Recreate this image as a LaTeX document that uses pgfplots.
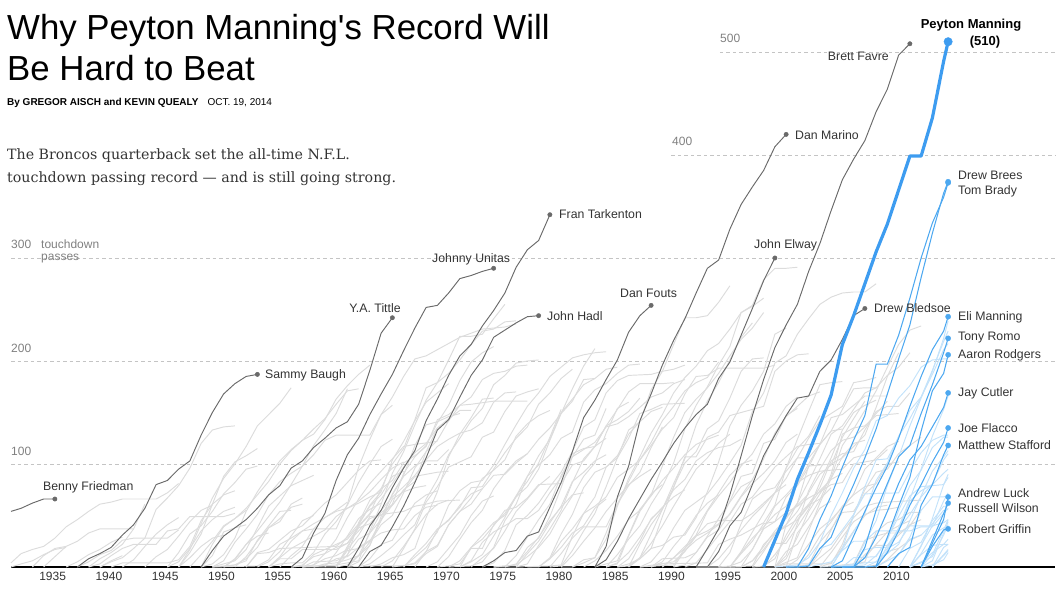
\documentclass[border=0pt]{standalone}
\usepackage{fontspec}
\setmainfont{Liberation Sans}
\newfontfamily\titlefont{Liberation Sans}
\newfontfamily\seriffont{DejaVu Serif}
\usepackage{pgfplots}
\pgfplotsset{compat=1.18}
\definecolor{grl}{HTML}{DCDCDC}
\definecolor{dkg}{HTML}{6A6A6A}
\definecolor{blu}{HTML}{4DA8F0}
\definecolor{lbl}{HTML}{C3E2FA}
\definecolor{pmb}{HTML}{3D9CF0}
\definecolor{txt}{HTML}{333333}
\definecolor{gridc}{HTML}{C4C4C4}
\pgfplotsset{
  gr/.style={color=grl, line width=0.95pt, mark=none},
  lb/.style={color=lbl, line width=0.95pt, mark=none},
  dk/.style={color=dkg, line width=0.95pt, mark=none},
  bl/.style={color=blu, line width=1.05pt, mark=none},
}
\begin{document}
\begin{tikzpicture}[x=1pt,y=1pt]
\path[use as bounding box] (0,0) rectangle (1063,589);
\begin{axis}[
  at={(11pt,22pt)}, anchor=south west,
  scale only axis, width=1044pt, height=545.9pt,
  xmin=1931.3, xmax=2024.1, ymin=0, ymax=530,
  axis x line*=bottom, axis y line=none,
  x axis line style={black, line width=1.3pt, -},
  xtick={1935,1940,...,2010}, ytick=\empty,
  major tick length=0pt,
  xticklabel style={font=\fontsize{12}{14}\selectfont, text=txt, yshift=-2pt},
  /pgf/number format/1000 sep={},
  /pgf/number format/assume math mode=true,
  clip=false,
]
% grid lines
\draw[gridc, dash pattern=on 3.5pt off 3pt, line width=0.7pt] (axis cs:1931.3,100) -- (axis cs:2024.1,100);
\draw[gridc, dash pattern=on 3.5pt off 3pt, line width=0.7pt] (axis cs:1931.3,200) -- (axis cs:2024.1,200);
\draw[gridc, dash pattern=on 3.5pt off 3pt, line width=0.7pt] (axis cs:1931.3,300) -- (axis cs:2024.1,300);
\draw[gridc, dash pattern=on 3.5pt off 3pt, line width=0.7pt] (axis cs:1990.0,400) -- (axis cs:2024.1,400);
\draw[gridc, dash pattern=on 3.5pt off 3pt, line width=0.7pt] (axis cs:1994.3,500) -- (axis cs:2024.1,500);

% ---------- gray background careers ----------
\addplot[gr] coordinates {(1931.3,4)(1932.2,13)(1933.2,17)(1934.2,20)(1935.2,28)(1936.2,39)(1937.2,46)(1938.2,54)(1939.2,61)(1940.2,63)(1941.2,66)(1944.2,66)(1945.2,72)(1946.2,81)};
\addplot[gr] coordinates {(1931.3,0)(1932.2,3)(1933.2,6)(1934.2,12)(1935.2,17)(1936.2,19)};
\addplot[gr] coordinates {(1933.2,0)(1934.2,11)(1935.2,18)(1936.2,20)};
\addplot[gr] coordinates {(1934.2,0)(1935.2,10)(1936.2,20)(1937.2,25)(1938.2,33)(1939.2,37)(1942.2,37)};
\addplot[gr] coordinates {(1936.2,0)(1937.2,5)(1938.2,12)(1939.2,17)(1940.2,24)(1941.2,29)};
\addplot[gr] coordinates {(1937.2,0)(1938.2,5)(1939.2,12)(1940.2,16)(1941.2,26)(1942.2,28)(1945.2,28)(1946.2,36)};
\addplot[gr] coordinates {(1938.2,0)(1939.2,8)(1940.2,14)(1941.2,22)(1942.2,37)(1943.2,61)};
\addplot[gr] coordinates {(1938.2,0)(1939.2,3)(1940.2,11)(1941.2,18)(1942.2,22)(1944.2,22)(1945.2,35)(1946.2,37)(1947.2,49)(1950.2,49)(1951.2,52)};
\addplot[gr] coordinates {(1939.2,0)(1940.2,6)(1941.2,11)};
\addplot[gr] coordinates {(1939.2,0)(1940.2,5)(1941.2,9)(1942.2,18)(1943.2,28)(1944.2,56)(1945.2,67)(1946.2,79)(1947.2,96)(1948.2,120)(1949.2,133)(1950.2,136)(1951.2,137)};
\addplot[gr] coordinates {(1940.2,0)(1941.2,4)(1945.2,4)(1946.2,7)(1947.2,20)(1948.2,45)(1949.2,61)(1950.2,70)(1951.2,74)};
\addplot[gr] coordinates {(1941.2,0)(1942.2,7)(1943.2,20)(1944.2,32)(1945.2,41)(1946.2,48)};
\addplot[gr] coordinates {(1943.2,0)(1944.2,10)(1945.2,17)(1946.2,30)(1947.2,44)(1948.2,55)(1949.2,60)};
\addplot[gr] coordinates {(1945.2,0)(1946.2,14)(1947.2,32)(1948.2,40)(1949.2,54)(1950.2,71)(1951.2,82)(1952.2,95)(1953.2,98)};
\addplot[gr] coordinates {(1945.2,0)(1946.2,5)(1947.2,18)(1948.2,35)(1949.2,46)(1950.2,54)(1951.2,58)};
\addplot[gr] coordinates {(1946.2,0)(1947.2,9)(1948.2,20)(1949.2,28)(1950.2,31)};
\addplot[gr] coordinates {(1946.2,0)(1947.2,14)(1948.2,32)(1949.2,61)(1950.2,88)(1951.2,102)(1952.2,108)(1953.2,115)};
\addplot[gr] coordinates {(1946.2,0)(1947.2,17)(1948.2,42)(1949.2,67)(1950.2,86)(1951.2,100)(1952.2,117)(1953.2,137)(1954.2,148)(1955.2,159)(1956.2,174)};
\addplot[gr] coordinates {(1947.2,0)(1948.2,12)(1949.2,25)(1950.2,40)(1951.2,47)(1952.2,55)};
\addplot[gr] coordinates {(1948.2,0)(1949.2,3)(1950.2,12)(1951.2,28)(1952.2,54)(1953.2,73)(1954.2,89)(1955.2,103)(1956.2,114)(1957.2,123)(1958.2,129)(1959.2,143)(1960.2,163)(1961.2,176)(1962.2,187)(1963.2,196)};
\addplot[gr] coordinates {(1948.2,0)(1949.2,22)(1950.2,39)(1951.2,47)(1952.2,57)(1953.2,70)(1954.2,83)(1955.2,100)(1956.2,113)(1957.2,123)(1958.2,134)(1959.2,144)(1960.2,158)(1961.2,171)(1962.2,173)};
\addplot[gr] coordinates {(1948.2,0)(1949.2,11)(1950.2,34)(1951.2,38)(1952.2,41)};
\addplot[gr] coordinates {(1949.2,0)(1950.2,6)(1951.2,24)(1952.2,37)(1953.2,51)(1954.2,70)(1955.2,83)(1956.2,91)(1957.2,98)(1958.2,118)(1959.2,133)(1960.2,149)(1961.2,173)};
\addplot[gr] coordinates {(1949.2,0)(1951.2,6)(1952.2,17)(1953.2,38)(1954.2,59)(1955.2,69)(1956.2,79)(1957.2,84)(1958.2,89)};
\addplot[gr] coordinates {(1949.2,0)(1951.2,2)(1952.2,6)(1953.2,26)(1954.2,40)(1955.2,54)(1956.2,55)};
\addplot[gr] coordinates {(1949.2,0)(1953.2,1)(1954.2,7)(1955.2,22)(1956.2,28)(1957.2,35)(1958.2,37)(1960.2,37)(1961.2,61)(1962.2,97)(1963.2,124)(1964.2,148)(1965.2,165)(1966.2,185)(1967.2,202)(1968.2,205)(1969.2,211)(1970.2,217)(1971.2,223)(1972.2,227)(1973.2,231)(1974.2,232)(1975.2,233)(1976.2,236)};
\addplot[gr] coordinates {(1950.2,0)(1951.2,2)(1952.2,8)(1953.2,19)(1954.2,38)(1955.2,47)(1956.2,58)(1957.2,61)};
\addplot[gr] coordinates {(1950.2,0)(1951.2,8)(1952.2,22)(1953.2,30)(1954.2,33)};
\addplot[gr] coordinates {(1950.2,0)(1951.2,7)(1952.2,22)(1953.2,35)(1954.2,49)(1955.2,63)(1956.2,80)(1957.2,98)(1958.2,109)(1959.2,123)(1960.2,128)(1963.2,128)(1964.2,148)(1965.2,157)};
\addplot[gr] coordinates {(1951.2,0)(1952.2,10)(1953.2,25)(1954.2,38)(1955.2,44)(1956.2,61)(1957.2,67)};
\addplot[gr] coordinates {(1952.2,0)(1953.2,14)(1954.2,17)(1955.2,26)(1956.2,35)(1957.2,40)(1958.2,51)(1959.2,62)(1960.2,70)(1961.2,82)(1962.2,94)(1963.2,103)(1964.2,104)};
\addplot[gr] coordinates {(1952.2,0)(1953.2,13)(1954.2,14)(1955.2,18)(1960.2,20)(1961.2,29)(1962.2,42)(1963.2,60)(1964.2,73)(1965.2,104)(1966.2,122)(1967.2,142)(1968.2,160)(1969.2,169)(1970.2,178)};
\addplot[gr] coordinates {(1953.2,0)(1954.2,5)(1955.2,15)(1956.2,30)(1957.2,45)(1958.2,50)};
\addplot[gr] coordinates {(1954.2,0)(1955.2,3)(1956.2,4)(1957.2,4)(1958.2,14)(1959.2,32)(1960.2,44)(1961.2,60)(1962.2,82)(1963.2,100)(1964.2,117)(1965.2,124)};
\addplot[gr] coordinates {(1954.2,0)(1955.2,9)(1956.2,18)(1957.2,24)(1958.2,30)(1959.2,36)(1960.2,49)(1961.2,57)(1962.2,64)(1963.2,73)(1964.2,85)(1965.2,96)(1966.2,102)};
\addplot[gr] coordinates {(1954.2,0)(1955.2,8)(1956.2,8)(1957.2,17)(1960.2,17)(1961.2,23)(1962.2,35)(1963.2,47)(1964.2,51)(1966.2,54)(1967.2,59)(1968.2,61)(1969.2,64)(1971.2,65)};
\addplot[gr] coordinates {(1954.2,0)(1955.2,10)(1956.2,25)(1957.2,35)(1958.2,42)(1959.2,48)(1960.2,54)(1961.2,57)(1962.2,62)(1963.2,68)(1964.2,73)};
\addplot[gr] coordinates {(1955.2,0)(1956.2,11)(1957.2,20)(1958.2,37)(1959.2,48)(1960.2,55)(1961.2,63)};
\addplot[gr] coordinates {(1956.2,0)(1957.2,2)(1958.2,10)(1959.2,13)(1960.2,19)(1961.2,23)(1962.2,39)(1963.2,51)(1964.2,66)(1965.2,81)(1966.2,97)(1967.2,111)(1968.2,120)(1969.2,135)(1970.2,144)(1971.2,152)(1972.2,152)};
\addplot[gr] coordinates {(1956.2,0)(1957.2,1)(1958.2,12)(1959.2,17)(1960.2,22)(1961.2,27)(1962.2,40)(1963.2,52)(1964.2,76)(1965.2,84)(1966.2,101)(1967.2,108)(1968.2,117)(1969.2,143)(1970.2,148)(1971.2,157)(1972.2,158)(1974.2,161)(1977.2,161)};
\addplot[gr] coordinates {(1956.2,0)(1957.2,1)(1960.2,1)(1961.2,16)(1962.2,18)(1963.2,25)(1964.2,45)(1965.2,66)(1966.2,73)(1967.2,77)(1968.2,79)};
\addplot[gr] coordinates {(1957.2,0)(1958.2,2)(1959.2,8)(1960.2,11)(1961.2,17)(1962.2,31)(1963.2,49)(1964.2,50)(1965.2,61)(1966.2,91)(1967.2,107)(1968.2,118)(1969.2,140)(1970.2,157)(1971.2,181)(1972.2,199)(1973.2,208)(1974.2,214)};
\addplot[gr] coordinates {(1957.2,0)(1958.2,5)(1960.2,6)(1961.2,11)(1962.2,43)(1963.2,65)(1964.2,76)(1965.2,100)(1966.2,115)(1967.2,143)(1968.2,174)(1969.2,179)(1970.2,201)(1971.2,224)(1972.2,224)(1973.2,226)(1974.2,241)(1975.2,255)};
\addplot[gr] coordinates {(1957.2,0)(1960.2,2)(1961.2,4)(1962.2,6)(1963.2,35)(1964.2,61)(1965.2,91)(1966.2,112)(1967.2,138)(1968.2,162)(1969.2,179)(1970.2,188)(1971.2,201)(1972.2,216)(1973.2,229)(1974.2,231)(1975.2,238)(1976.2,239)};
\addplot[gr] coordinates {(1957.2,0)(1958.2,2)(1959.2,13)(1960.2,27)(1961.2,48)(1962.2,66)(1963.2,81)(1964.2,93)(1965.2,105)(1966.2,117)(1967.2,119)(1969.2,122)};
\addplot[gr] coordinates {(1957.2,0)(1960.2,0)(1961.2,20)(1962.2,38)(1963.2,42)(1964.2,55)(1965.2,68)(1966.2,78)(1967.2,89)(1968.2,103)(1969.2,103)(1970.2,114)};
\addplot[gr] coordinates {(1958.2,0)(1959.2,3)(1960.2,4)(1961.2,7)(1962.2,11)(1963.2,21)(1964.2,46)(1965.2,71)(1966.2,89)(1967.2,118)(1968.2,138)(1969.2,141)(1970.2,146)(1971.2,149)};
\addplot[gr] coordinates {(1958.2,0)(1959.2,2)(1960.2,8)(1961.2,10)(1962.2,19)(1963.2,26)(1964.2,33)(1965.2,36)(1966.2,37)(1967.2,50)(1968.2,58)(1969.2,60)};
\addplot[gr] coordinates {(1959.2,0)(1960.2,14)(1961.2,30)(1962.2,47)(1963.2,56)(1964.2,62)};
\addplot[gr] coordinates {(1960.2,0)(1961.2,2)(1962.2,11)(1963.2,24)(1964.2,41)(1965.2,50)(1966.2,72)(1967.2,96)(1968.2,112)(1969.2,135)};
\addplot[gr] coordinates {(1960.2,0)(1961.2,12)(1962.2,27)(1963.2,33)(1964.2,53)(1965.2,60)(1966.2,74)(1967.2,88)(1968.2,90)(1969.2,92)(1970.2,93)};
\addplot[gr] coordinates {(1960.2,0)(1961.2,18)(1962.2,41)(1963.2,59)(1964.2,70)(1965.2,88)(1966.2,93)};
\addplot[gr] coordinates {(1961.2,0)(1962.2,5)(1963.2,21)(1964.2,49)(1965.2,70)(1966.2,88)(1967.2,98)(1968.2,104)(1969.2,117)(1970.2,124)(1971.2,130)(1972.2,133)(1973.2,140)(1974.2,160)(1975.2,169)(1976.2,170)};
\addplot[gr] coordinates {(1961.2,0)(1962.2,11)(1963.2,33)(1964.2,46)(1965.2,60)(1966.2,75)(1967.2,83)(1968.2,112)(1969.2,123)(1970.2,142)(1971.2,157)(1972.2,165)(1973.2,182)(1974.2,188)(1975.2,190)(1976.2,195)(1977.2,196)};
\addplot[gr] coordinates {(1961.2,0)(1963.2,1)(1966.2,1)(1967.2,4)(1968.2,15)(1969.2,21)(1970.2,41)(1971.2,54)(1972.2,67)(1973.2,86)(1974.2,94)(1975.2,104)(1976.2,127)(1977.2,139)(1978.2,147)(1979.2,152)};
\addplot[gr] coordinates {(1962.2,0)(1963.2,3)(1964.2,11)(1965.2,20)(1966.2,31)(1967.2,41)(1968.2,66)(1969.2,85)(1970.2,109)(1971.2,125)(1972.2,142)(1973.2,154)(1974.2,177)(1975.2,186)(1976.2,198)(1977.2,200)(1978.2,201)};
\addplot[gr] coordinates {(1962.2,0)(1963.2,8)(1964.2,22)(1965.2,26)(1966.2,45)(1967.2,62)(1968.2,70)(1969.2,74)};
\addplot[gr] coordinates {(1963.2,0)(1964.2,3)(1965.2,9)(1966.2,12)(1967.2,18)(1968.2,48)(1969.2,73)(1970.2,107)(1971.2,129)(1972.2,145)(1973.2,163)(1974.2,164)};
\addplot[gr] coordinates {(1964.2,0)(1965.2,6)(1966.2,20)(1967.2,36)(1968.2,51)(1969.2,61)(1970.2,65)};
\addplot[gr] coordinates {(1965.2,0)(1966.2,18)(1967.2,37)(1968.2,63)(1969.2,78)(1970.2,97)(1971.2,102)(1972.2,107)(1973.2,126)(1974.2,131)(1975.2,151)(1976.2,166)(1977.2,170)(1978.2,173)};
\addplot[gr] coordinates {(1965.2,0)(1967.2,3)(1968.2,13)(1969.2,20)(1970.2,41)(1971.2,54)(1972.2,61)(1973.2,76)(1974.2,89)(1975.2,90)(1976.2,101)(1977.2,110)(1978.2,124)(1979.2,135)(1980.2,149)(1981.2,161)(1982.2,182)(1983.2,183)};
\addplot[gr] coordinates {(1966.2,0)(1968.2,19)(1969.2,34)(1970.2,60)(1971.2,74)(1972.2,82)(1973.2,84)(1974.2,99)(1975.2,119)(1976.2,138)(1977.2,156)(1978.2,169)(1979.2,185)(1980.2,194)(1981.2,203)(1982.2,206)(1983.2,208)(1984.2,209)};
\addplot[gr] coordinates {(1966.2,0)(1967.2,12)(1968.2,23)(1969.2,37)(1970.2,45)(1971.2,60)(1972.2,71)(1973.2,76)};
\addplot[gr] coordinates {(1967.2,0)(1968.2,15)(1969.2,36)(1970.2,46)(1971.2,58)(1972.2,77)(1973.2,78)(1974.2,95)(1975.2,111)(1976.2,125)(1977.2,136)(1978.2,158)(1979.2,169)(1980.2,183)(1981.2,192)};
\addplot[gr] coordinates {(1968.2,0)(1969.2,5)(1970.2,18)(1971.2,31)(1972.2,50)(1973.2,64)(1974.2,69)};
\addplot[gr] coordinates {(1969.2,0)(1970.2,1)(1971.2,3)(1972.2,18)(1973.2,18)(1974.2,41)(1975.2,52)(1976.2,69)(1977.2,83)(1978.2,101)(1979.2,126)(1980.2,153)};
\addplot[gr] coordinates {(1969.2,0)(1970.2,10)(1971.2,27)(1972.2,43)(1973.2,55)(1974.2,76)(1975.2,91)(1976.2,103)(1977.2,110)};
\addplot[gr] coordinates {(1970.2,0)(1971.2,6)(1972.2,19)(1973.2,31)(1974.2,43)(1975.2,50)(1976.2,68)(1977.2,78)(1978.2,95)(1979.2,123)(1980.2,149)(1981.2,173)(1982.2,195)(1983.2,212)};
\addplot[gr] coordinates {(1970.2,0)(1972.2,1)(1973.2,5)(1974.2,19)(1975.2,45)(1976.2,61)(1977.2,88)(1978.2,108)(1979.2,124)(1980.2,150)(1981.2,163)(1982.2,177)(1983.2,183)(1984.2,192)(1985.2,194)};
\addplot[gr] coordinates {(1971.2,0)(1972.2,5)(1973.2,12)(1974.2,30)(1975.2,48)(1976.2,69)(1977.2,88)(1978.2,99)(1979.2,109)(1980.2,125)(1981.2,131)(1982.2,160)(1983.2,172)(1984.2,178)(1985.2,188)(1986.2,196)(1987.2,197)};
\addplot[gr] coordinates {(1971.2,0)(1972.2,6)(1973.2,24)(1974.2,34)(1975.2,40)(1976.2,47)(1977.2,47)(1978.2,55)(1979.2,72)(1980.2,87)(1981.2,110)(1982.2,115)(1983.2,117)(1984.2,125)};
\addplot[gr] coordinates {(1971.2,0)(1972.2,19)(1973.2,27)(1974.2,40)(1975.2,55)(1976.2,58)(1977.2,67)(1978.2,80)(1980.2,81)(1981.2,99)(1982.2,103)(1983.2,117)(1984.2,137)(1985.2,143)(1986.2,151)(1987.2,164)};
\addplot[gr] coordinates {(1972.2,0)(1973.2,9)(1974.2,18)(1975.2,35)(1976.2,54)(1977.2,66)(1978.2,79)(1979.2,88)};
\addplot[gr] coordinates {(1973.2,0)(1974.2,4)(1975.2,16)(1976.2,41)(1977.2,50)(1978.2,62)(1979.2,78)(1980.2,92)(1981.2,112)(1982.2,136)(1983.2,143)(1984.2,169)(1985.2,181)(1986.2,186)(1988.2,187)(1989.2,190)(1990.2,192)(1991.2,196)};
\addplot[gr] coordinates {(1974.2,0)(1976.2,0)(1977.2,3)(1978.2,21)(1979.2,37)(1980.2,55)(1981.2,82)(1982.2,105)(1983.2,117)(1984.2,137)(1985.2,153)(1986.2,170)(1987.2,178)(1989.2,178)(1990.2,179)};
\addplot[gr] coordinates {(1974.2,0)(1975.2,1)(1976.2,2)(1977.2,19)(1978.2,28)(1979.2,49)(1980.2,77)(1981.2,107)(1982.2,124)(1983.2,128)(1984.2,154)};
\addplot[gr] coordinates {(1974.2,0)(1975.2,1)(1976.2,2)(1977.2,10)(1978.2,19)(1979.2,32)(1980.2,52)(1981.2,69)(1982.2,88)(1983.2,101)(1984.2,130)(1985.2,154)(1986.2,160)};
\addplot[gr] coordinates {(1975.2,0)(1976.2,11)(1977.2,29)(1978.2,46)(1979.2,61)(1980.2,89)(1981.2,107)(1982.2,114)(1983.2,121)(1984.2,136)(1985.2,139)(1986.2,146)(1987.2,155)(1988.2,165)(1989.2,169)(1990.2,178)(1991.2,182)};
\addplot[gr] coordinates {(1975.2,0)(1976.2,3)(1977.2,15)(1978.2,29)(1979.2,45)(1980.2,58)(1981.2,70)(1982.2,72)};
\addplot[gr] coordinates {(1976.2,0)(1979.2,1)(1980.2,2)(1981.2,30)(1982.2,52)(1983.2,68)(1984.2,97)(1985.2,108)(1986.2,129)(1987.2,141)(1988.2,151)(1989.2,155)};
\addplot[gr] coordinates {(1976.2,0)(1977.2,13)(1978.2,25)(1979.2,43)(1980.2,59)(1981.2,83)(1982.2,92)(1983.2,103)(1984.2,109)};
\addplot[gr] coordinates {(1977.2,0)(1978.2,0)(1979.2,9)(1980.2,32)(1981.2,51)(1982.2,77)(1983.2,92)(1984.2,97)(1985.2,106)(1986.2,125)(1987.2,149)(1988.2,153)(1989.2,158)(1991.2,159)};
\addplot[gr] coordinates {(1978.2,0)(1979.2,8)(1980.2,25)(1981.2,37)(1982.2,52)(1983.2,59)(1984.2,68)(1985.2,87)(1986.2,95)(1987.2,104)(1988.2,118)(1989.2,134)(1990.2,145)(1991.2,168)(1992.2,185)(1993.2,186)(1994.2,193)(1998.2,193)(1999.2,196)};
\addplot[gr] coordinates {(1978.2,0)(1979.2,8)(1980.2,19)(1981.2,33)(1982.2,40)(1983.2,57)(1984.2,66)};
\addplot[gr] coordinates {(1979.2,0)(1980.2,1)(1981.2,16)(1982.2,35)(1983.2,52)(1984.2,78)(1985.2,106)(1986.2,133)(1987.2,141)(1988.2,172)(1989.2,190)(1990.2,216)(1991.2,242)(1992.2,242)(1993.2,244)(1994.2,257)(1995.2,273)};
\addplot[gr] coordinates {(1979.2,0)(1980.2,13)(1981.2,28)(1982.2,39)(1984.2,39)(1985.2,61)(1986.2,83)(1987.2,104)(1988.2,121)(1989.2,142)(1990.2,156)(1991.2,171)(1992.2,179)(1993.2,184)(1994.2,199)};
\addplot[gr] coordinates {(1980.2,0)(1981.2,0)(1982.2,7)(1983.2,9)(1984.2,27)(1985.2,59)(1986.2,86)(1987.2,107)(1988.2,130)(1989.2,148)(1990.2,169)(1991.2,184)(1992.2,195)(1993.2,210)(1994.2,217)(1995.2,231)(1996.2,247)(1997.2,253)(1998.2,261)};
\addplot[gr] coordinates {(1980.2,0)(1981.2,11)(1982.2,25)(1983.2,38)(1984.2,54)(1985.2,67)(1986.2,80)(1987.2,88)(1988.2,95)};
\addplot[gr] coordinates {(1981.2,0)(1982.2,4)(1983.2,9)(1984.2,33)(1985.2,61)(1986.2,79)(1987.2,92)(1988.2,116)(1989.2,136)};
\addplot[gr] coordinates {(1982.2,0)(1983.2,6)(1984.2,16)(1985.2,30)(1986.2,46)(1987.2,55)(1988.2,71)(1989.2,80)};
\addplot[gr] coordinates {(1983.2,0)(1985.2,6)(1986.2,31)(1987.2,56)(1988.2,69)(1989.2,84)(1990.2,96)(1991.2,109)(1992.2,119)(1993.2,124)(1994.2,128)};
\addplot[gr] coordinates {(1984.2,0)(1985.2,12)(1986.2,27)(1987.2,40)(1988.2,61)(1989.2,78)(1990.2,101)(1991.2,134)(1992.2,157)(1993.2,175)(1994.2,196)(1995.2,214)(1996.2,247)(1997.2,254)(1998.2,279)(1999.2,290)(2000.2,290)(2001.2,291)};
\addplot[gr] coordinates {(1984.2,0)(1985.2,3)(1986.2,30)(1987.2,54)(1988.2,70)(1989.2,98)(1990.2,126)(1991.2,150)(1992.2,163)(1993.2,174)(1994.2,188)(1995.2,205)(1996.2,221)(1997.2,232)(1998.2,247)};
\addplot[gr] coordinates {(1984.2,0)(1985.2,4)(1986.2,14)(1987.2,29)(1988.2,46)(1989.2,58)(1990.2,68)(1991.2,75)};
\addplot[gr] coordinates {(1985.2,0)(1986.2,8)(1987.2,25)(1988.2,47)(1989.2,57)(1990.2,75)(1991.2,85)(1992.2,103)(1993.2,111)(1994.2,116)(1995.2,118)(1996.2,124)};
\addplot[gr] coordinates {(1985.2,0)(1986.2,3)(1987.2,8)(1988.2,18)(1989.2,21)(1990.2,29)(1991.2,31)(1992.2,48)(1993.2,73)(1994.2,102)(1995.2,137)(1996.2,157)(1997.2,171)(1998.2,190)(1999.2,226)(2000.2,232)};
\addplot[gr] coordinates {(1985.2,0)(1986.2,1)(1987.2,9)(1988.2,32)(1989.2,56)(1990.2,77)(1991.2,107)(1992.2,107)(1993.2,126)(1994.2,131)(1995.2,147)(1996.2,150)(1998.2,156)(1999.2,190)(2000.2,200)(2001.2,206)(2002.2,207)};
\addplot[gr] coordinates {(1986.2,0)(1987.2,22)(1988.2,41)(1989.2,56)(1990.2,81)(1991.2,105)(1992.2,138)(1993.2,161)(1994.2,179)(1995.2,201)(1996.2,223)(1997.2,237)};
\addplot[gr] coordinates {(1986.2,0)(1987.2,8)(1988.2,18)(1989.2,49)(1990.2,78)(1991.2,101)(1992.2,112)(1993.2,134)(1994.2,142)(1995.2,164)(1996.2,190)(1997.2,202)(1998.2,203)};
\addplot[gr] coordinates {(1986.2,0)(1987.2,9)(1988.2,23)(1989.2,40)(1990.2,59)(1991.2,77)(1992.2,95)(1993.2,106)(1994.2,120)(1995.2,129)};
\addplot[gr] coordinates {(1987.2,0)(1988.2,5)(1989.2,18)(1990.2,38)(1991.2,55)(1992.2,63)(1993.2,71)(1994.2,85)(1995.2,101)(1996.2,118)(1997.2,151)(1998.2,169)(1999.2,198)(2000.2,205)(2001.2,226)(2002.2,241)(2003.2,255)(2004.2,262)(2005.2,266)(2006.2,267)(2007.2,267)(2008.2,275)};
\addplot[gr] coordinates {(1987.2,0)(1990.2,2)(1991.2,18)(1992.2,30)(1993.2,42)(1994.2,45)(1996.2,45)(1997.2,52)(1998.2,62)(1999.2,72)(2000.2,96)(2001.2,124)(2002.2,151)(2003.2,177)(2004.2,179)(2005.2,180)};
\addplot[gr] coordinates {(1987.2,0)(1990.2,5)(1991.2,15)(1992.2,30)(1993.2,35)(1994.2,42)(1995.2,51)(1996.2,68)(1997.2,81)(1998.2,91)(1999.2,103)(2000.2,121)(2001.2,129)};
\addplot[gr] coordinates {(1988.2,0)(1989.2,8)(1991.2,9)(1992.2,14)(1993.2,29)(1994.2,36)(1995.2,52)(1996.2,69)(1997.2,85)(1998.2,105)(1999.2,130)(2000.2,146)(2001.2,156)(2002.2,166)(2003.2,170)};
\addplot[gr] coordinates {(1988.2,0)(1989.2,3)(1993.2,4)(1994.2,22)(1995.2,27)(1996.2,31)(1997.2,37)(1998.2,43)(1999.2,60)(2000.2,96)(2001.2,115)(2002.2,127)(2003.2,147)};
\addplot[gr] coordinates {(1988.2,0)(1989.2,5)(1990.2,20)(1991.2,33)(1992.2,50)(1993.2,62)(1994.2,70)};
\addplot[gr] coordinates {(1989.2,0)(1990.2,9)(1991.2,20)(1992.2,31)(1993.2,54)(1994.2,69)(1995.2,82)(1996.2,98)(1997.2,110)(1998.2,129)(1999.2,139)(2000.2,156)(2001.2,165)};
\addplot[gr] coordinates {(1989.2,0)(1990.2,9)(1991.2,18)(1992.2,37)(1993.2,55)(1994.2,72)(1995.2,89)(1996.2,100)(1997.2,104)};
\addplot[gr] coordinates {(1990.2,0)(1991.2,16)(1992.2,26)(1993.2,33)(1994.2,41)(1995.2,64)(1996.2,88)(1997.2,91)(1998.2,120)(1999.2,124)(2000.2,147)(2001.2,154)};
\addplot[gr] coordinates {(1990.2,0)(1991.2,2)(1992.2,14)(1993.2,30)(1994.2,47)(1995.2,63)(1996.2,78)(1997.2,84)};
\addplot[gr] coordinates {(1991.2,0)(1992.2,4)(1993.2,17)(1994.2,31)(1995.2,44)(1996.2,61)(1997.2,68)(1998.2,82)(1999.2,97)(2000.2,107)(2001.2,117)(2002.2,119)(2003.2,120)};
\addplot[gr] coordinates {(1992.2,0)(1996.2,0)(1997.2,17)(1998.2,37)(1999.2,44)(2000.2,68)(2001.2,79)(2002.2,97)(2003.2,119)(2004.2,145)(2005.2,148)(2006.2,157)(2007.2,166)(2009.2,166)};
\addplot[gr] coordinates {(1992.2,0)(1994.2,0)(1995.2,14)(1996.2,42)(1997.2,66)(1998.2,74)(1999.2,77)(2000.2,93)(2001.2,106)(2002.2,106)(2003.2,119)(2004.2,132)(2005.2,134)};
\addplot[gr] coordinates {(1993.2,0)(1994.2,8)(1995.2,21)(1996.2,36)(1997.2,49)(1998.2,60)(1999.2,72)(2000.2,80)};
\addplot[gr] coordinates {(1994.2,0)(1995.2,0)(1996.2,15)(1997.2,34)(1998.2,52)(1999.2,72)(2000.2,86)(2001.2,106)(2002.2,125)(2003.2,142)(2004.2,149)(2005.2,156)(2006.2,179)(2007.2,181)(2008.2,184)};
\addplot[gr] coordinates {(1994.2,0)(1995.2,1)(1996.2,5)(1997.2,17)(1998.2,38)(1999.2,59)(2000.2,70)(2001.2,82)(2002.2,89)(2003.2,93)(2005.2,95)(2006.2,106)(2007.2,109)(2008.2,113)};
\addplot[gr] coordinates {(1994.2,0)(1995.2,0)(1996.2,13)(1997.2,25)(1998.2,42)(1999.2,44)(2000.2,53)(2001.2,59)(2002.2,67)(2003.2,73)(2004.2,80)(2005.2,82)(2006.2,100)(2008.2,104)(2009.2,114)};
\addplot[gr] coordinates {(1995.2,0)(1996.2,14)(1997.2,28)(1998.2,39)(1999.2,51)(2000.2,59)(2001.2,81)(2002.2,100)(2003.2,119)(2004.2,132)(2005.2,153)(2006.2,173)(2007.2,174)(2008.2,174)(2009.2,186)(2010.2,194)(2011.2,208)};
\addplot[gr] coordinates {(1995.2,0)(1996.2,0)(1997.2,6)(1998.2,20)(1999.2,35)(2000.2,47)(2001.2,62)(2002.2,83)(2003.2,105)(2004.2,129)(2005.2,137)(2006.2,153)(2007.2,169)(2008.2,174)};
\addplot[gr] coordinates {(1995.2,0)(1997.2,1)(1998.2,22)(1999.2,33)(2000.2,39)(2001.2,46)(2002.2,60)(2003.2,66)(2004.2,77)};
\addplot[gr] coordinates {(1996.2,0)(1997.2,6)(1998.2,17)(1999.2,32)(2000.2,49)(2001.2,60)(2002.2,71)};
\addplot[gr] coordinates {(1997.2,0)(1998.2,15)(1999.2,32)(2000.2,41)(2001.2,54)(2002.2,72)(2003.2,90)(2004.2,99)(2005.2,126)(2006.2,144)(2007.2,161)};
\addplot[gr] coordinates {(1997.2,0)(1998.2,0)(1999.2,23)(2000.2,23)(2001.2,39)(2002.2,56)(2003.2,82)(2004.2,106)(2005.2,133)(2006.2,150)(2007.2,157)(2008.2,162)};
\addplot[gr] coordinates {(1997.2,0)(1998.2,1)(1999.2,8)(2000.2,31)(2001.2,49)(2002.2,61)(2003.2,77)(2004.2,103)(2005.2,110)(2006.2,112)(2007.2,133)(2008.2,151)(2009.2,156)(2010.2,156)(2011.2,169)};
\addplot[gr] coordinates {(1998.2,0)(1999.2,0)(2000.2,41)(2001.2,62)(2002.2,98)(2003.2,99)(2004.2,100)(2005.2,106)(2006.2,117)(2007.2,128)(2008.2,155)(2009.2,185)(2010.2,208)};
\addplot[gr] coordinates {(1998.2,0)(1999.2,12)(2000.2,27)(2001.2,45)(2002.2,59)(2003.2,74)(2004.2,85)(2005.2,91)};
\addplot[gr] coordinates {(1999.2,0)(2000.2,8)(2001.2,29)(2002.2,54)(2003.2,71)(2004.2,87)(2005.2,118)(2006.2,134)(2007.2,152)(2008.2,171)(2009.2,194)(2010.2,216)(2011.2,230)(2012.2,234)};
\addplot[gr] coordinates {(1999.2,0)(2000.2,11)(2001.2,42)(2002.2,74)(2003.2,95)(2004.2,113)(2005.2,123)(2006.2,126)(2007.2,136)(2008.2,149)(2009.2,161)};
\addplot[gr] coordinates {(1999.2,0)(2000.2,0)(2001.2,33)(2002.2,47)(2003.2,65)(2004.2,90)(2005.2,129)(2006.2,135)(2007.2,137)(2008.2,147)(2010.2,149)};
\addplot[gr] coordinates {(1999.2,0)(2000.2,15)(2001.2,22)(2002.2,39)(2003.2,57)(2004.2,64)};
\addplot[gr] coordinates {(1999.2,0)(2001.2,9)(2002.2,35)(2003.2,62)(2004.2,86)(2005.2,107)(2006.2,120)(2007.2,123)};
\addplot[gr] coordinates {(1999.2,0)(2000.2,3)(2004.2,3)(2005.2,22)(2006.2,51)(2007.2,75)(2008.2,92)(2009.2,95)(2010.2,110)(2011.2,118)(2012.2,126)};
\addplot[gr] coordinates {(2000.2,0)(2002.2,0)(2003.2,14)(2004.2,36)(2005.2,57)(2006.2,71)(2007.2,95)(2008.2,106)(2009.2,117)(2010.2,122)};
\addplot[gr] coordinates {(2000.2,0)(2002.2,2)(2003.2,24)(2004.2,37)(2005.2,53)(2006.2,54)(2007.2,71)(2008.2,81)(2009.2,100)(2010.2,102)};
\addplot[gr] coordinates {(2000.2,0)(2001.2,7)(2002.2,22)(2003.2,37)(2004.2,46)(2005.2,58)(2006.2,63)};
\addplot[gr] coordinates {(2001.2,0)(2002.2,12)(2003.2,30)(2004.2,44)(2005.2,59)(2006.2,70)(2007.2,78)(2008.2,81)};
\addplot[gr] coordinates {(2002.2,0)(2003.2,9)(2004.2,18)(2005.2,34)(2006.2,48)(2007.2,59)(2008.2,62)(2009.2,63)(2012.2,65)};
\addplot[gr] coordinates {(2003.2,0)(2004.2,14)(2005.2,29)(2006.2,44)(2007.2,51)(2008.2,55)(2009.2,56)(2010.2,58)};
\addplot[gr] coordinates {(2003.2,0)(2006.2,3)(2007.2,26)(2008.2,30)(2009.2,33)(2010.2,33)(2011.2,40)(2012.2,56)};
\addplot[gr] coordinates {(2003.2,0)(2004.2,4)(2005.2,19)(2006.2,35)(2007.2,50)(2008.2,58)(2009.2,60)};
\addplot[gr] coordinates {(2005.2,0)(2007.2,5)(2008.2,34)(2009.2,43)(2010.2,46)(2011.2,53)(2012.2,53)};
\addplot[gr] coordinates {(2006.2,0)(2007.2,12)(2008.2,21)(2009.2,21)(2010.2,31)(2011.2,41)(2012.2,46)};
\addplot[gr] coordinates {(2006.2,0)(2007.2,9)(2008.2,22)(2009.2,34)(2010.2,40)(2011.2,45)};
\addplot[gr] coordinates {(2007.2,0)(2008.2,2)(2009.2,15)(2010.2,18)};
\addplot[gr] coordinates {(2008.2,0)(2009.2,7)(2010.2,18)(2011.2,26)(2012.2,31)};

% ---------- light blue: other active players ----------
\addplot[lb] coordinates {(1999.2,0)(2001.2,2)(2002.2,9)(2003.2,24)(2004.2,50)(2005.2,72)(2006.2,96)(2007.2,114)(2008.2,142)(2009.2,147)(2010.2,164)(2011.2,176)(2012.2,194)(2013.2,201)(2014.2,202)(2014.6,202)};
\addplot[lb] coordinates {(2004.2,0)(2005.2,1)(2006.2,2)(2007.2,24)(2008.2,45)(2009.2,79)(2010.2,107)(2011.2,137)(2012.2,164)(2013.2,190)(2014.2,222)(2014.6,239)};
\addplot[lb] coordinates {(2004.2,0)(2005.2,17)(2006.2,34)(2007.2,52)(2008.2,84)(2009.2,101)(2010.2,127)(2011.2,144)(2012.2,165)(2013.2,191)(2014.2,219)(2014.6,229)};
\addplot[lb] coordinates {(2003.2,0)(2004.2,0)(2005.2,18)(2006.2,50)(2007.2,78)(2008.2,104)(2009.2,105)(2010.2,126)(2011.2,152)(2012.2,165)(2013.2,187)(2014.2,211)(2014.6,217)};
\addplot[lb] coordinates {(2008.2,0)(2009.2,16)(2010.2,38)(2011.2,66)(2012.2,95)(2013.2,127)(2014.2,153)(2014.6,166)};
\addplot[lb] coordinates {(2001.2,0)(2002.2,2)(2003.2,18)(2004.2,22)(2005.2,36)(2006.2,51)(2007.2,71)(2010.2,72)(2011.2,93)(2012.2,111)(2013.2,123)(2014.2,128)(2014.6,128)};
\addplot[lb] coordinates {(2004.2,0)(2005.2,1)(2007.2,2)(2008.2,11)(2009.2,26)(2010.2,55)(2011.2,79)(2012.2,94)(2013.2,116)(2014.2,126)(2014.6,126)};
\addplot[lb] coordinates {(2005.2,0)(2006.2,9)(2008.2,10)(2009.2,28)(2010.2,49)(2011.2,69)(2012.2,78)(2013.2,79)(2014.2,80)(2014.6,90)};
\addplot[lb] coordinates {(2005.2,0)(2008.2,0)(2009.2,21)(2010.2,37)(2011.2,64)(2012.2,74)(2013.2,80)(2014.2,91)(2014.6,95)};
\addplot[lb] coordinates {(2005.2,0)(2006.2,1)(2007.2,17)(2008.2,19)(2009.2,19)(2010.2,37)(2011.2,51)(2012.2,68)(2013.2,81)(2014.2,104)(2014.6,110)};
\addplot[lb] coordinates {(2005.2,0)(2006.2,3)(2008.2,5)(2009.2,13)(2010.2,22)(2011.2,45)(2012.2,69)(2013.2,93)(2014.2,107)(2014.6,113)};
\addplot[lb] coordinates {(2009.2,0)(2010.2,12)(2011.2,29)(2012.2,55)(2013.2,68)(2014.2,68)(2014.6,70)};
\addplot[lb] coordinates {(2011.2,0)(2012.2,20)(2013.2,47)(2014.2,80)(2014.6,87)};
\addplot[lb] coordinates {(2011.2,0)(2012.2,21)(2013.2,40)(2014.2,64)(2014.6,72)};
\addplot[lb] coordinates {(2011.2,0)(2013.2,10)(2014.2,31)(2014.6,41)};
\addplot[lb] coordinates {(2010.2,0)(2011.2,18)(2012.2,24)(2013.2,45)(2014.2,59)(2014.6,59)};
\addplot[lb] coordinates {(2002.2,0)(2004.2,5)(2005.2,16)(2006.2,25)(2007.2,25)(2008.2,35)(2011.2,35)(2012.2,39)(2013.2,39)(2014.2,52)(2014.6,57)};
\addplot[lb] coordinates {(2012.2,0)(2013.2,12)(2014.2,36)(2014.6,46)};
\addplot[lb] coordinates {(2012.2,0)(2013.2,6)(2014.2,33)(2014.6,44)};
\addplot[lb] coordinates {(2008.2,0)(2010.2,12)(2011.2,27)(2012.2,31)(2013.2,42)(2014.2,55)(2014.6,56)};
\addplot[lb] coordinates {(2007.2,0)(2008.2,5)(2009.2,18)(2010.2,24)(2011.2,40)(2013.2,40)(2014.2,43)(2014.6,46)};
\addplot[lb] coordinates {(2011.2,0)(2012.2,13)(2013.2,31)(2014.2,38)(2014.6,38)};
\addplot[lb] coordinates {(2011.2,0)(2012.2,12)(2013.2,21)(2014.2,22)(2014.6,22)};
\addplot[lb] coordinates {(2013.2,0)(2014.2,12)(2014.6,17)};
\addplot[lb] coordinates {(2013.2,0)(2014.2,11)(2014.6,16)};
\addplot[lb] coordinates {(2011.2,0)(2012.2,4)(2013.2,14)(2014.2,22)(2014.6,27)};
\addplot[lb] coordinates {(2013.2,0)(2014.2,19)(2014.6,22)};
\addplot[lb] coordinates {(2012.2,0)(2013.2,2)(2014.2,7)(2014.6,14)};

% ---------- named retired (dark gray) ----------
\addplot[dk] coordinates {(1931.3,54)(1932.2,57)(1933.2,62)(1934.2,66)(1935.2,66)};
\addplot[dk] coordinates {(1937.2,0)(1938.2,8)(1939.2,13)(1940.2,19)(1941.2,31)(1942.2,41)(1943.2,57)(1944.2,80)(1945.2,84)(1946.2,95)(1947.2,103)(1948.2,128)(1949.2,150)(1950.2,168)(1951.2,178)(1952.2,185)(1953.2,187)};
\addplot[dk] coordinates {(1948.2,0)(1949.2,16)(1950.2,30)(1951.2,38)(1952.2,46)(1953.2,57)(1954.2,70)(1955.2,79)(1956.2,96)(1957.2,103)(1958.2,116)(1959.2,125)(1960.2,135)(1961.2,141)(1962.2,158)(1963.2,191)(1964.2,227)(1965.2,242)};
\addplot[dk] coordinates {(1956.2,0)(1957.2,9)(1958.2,33)(1959.2,52)(1960.2,84)(1961.2,109)(1962.2,125)(1963.2,148)(1964.2,168)(1965.2,187)(1966.2,210)(1967.2,232)(1968.2,252)(1969.2,254)(1970.2,266)(1971.2,280)(1972.2,283)(1973.2,287)(1974.2,290)};
\addplot[dk] coordinates {(1961.2,0)(1962.2,18)(1963.2,40)(1964.2,55)(1965.2,77)(1966.2,96)(1967.2,113)(1968.2,142)(1969.2,163)(1970.2,186)(1971.2,205)(1972.2,216)(1973.2,234)(1974.2,249)(1975.2,266)(1976.2,291)(1977.2,308)(1978.2,317)(1979.2,342)};
\addplot[dk] coordinates {(1962.2,0)(1963.2,15)(1964.2,21)(1965.2,39)(1966.2,59)(1967.2,82)(1968.2,106)(1969.2,133)(1970.2,143)(1971.2,165)(1972.2,186)(1973.2,201)(1974.2,223)(1975.2,230)(1976.2,237)(1977.2,243)(1978.2,244)};
\addplot[dk] coordinates {(1973.2,0)(1974.2,6)(1975.2,14)(1976.2,16)(1977.2,30)(1978.2,34)(1979.2,58)(1980.2,82)(1981.2,112)(1982.2,145)(1983.2,162)(1984.2,182)(1985.2,201)(1986.2,228)(1987.2,244)(1988.2,254)};
\addplot[dk] coordinates {(1983.2,0)(1984.2,20)(1985.2,68)(1986.2,98)(1987.2,142)(1988.2,168)(1989.2,196)(1990.2,220)(1991.2,241)(1992.2,266)(1993.2,290)(1994.2,298)(1995.2,328)(1996.2,352)(1997.2,369)(1998.2,385)(1999.2,408)(2000.2,420)};
\addplot[dk] coordinates {(1983.2,0)(1984.2,7)(1985.2,25)(1986.2,47)(1987.2,66)(1988.2,85)(1989.2,102)(1990.2,120)(1991.2,135)(1992.2,148)(1993.2,158)(1994.2,183)(1995.2,199)(1996.2,225)(1997.2,251)(1998.2,278)(1999.2,300)};
\addplot[dk] coordinates {(1991.2,0)(1992.2,0)(1993.2,18)(1994.2,37)(1995.2,70)(1996.2,108)(1997.2,147)(1998.2,182)(1999.2,213)(2000.2,235)(2001.2,255)(2002.2,287)(2003.2,314)(2004.2,346)(2005.2,376)(2006.2,396)(2007.2,414)(2008.2,442)(2009.2,464)(2010.2,497)(2011.2,508)};
\addplot[dk] coordinates {(1993.2,0)(1994.2,15)(1995.2,40)(1996.2,53)(1997.2,80)(1998.2,108)(1999.2,128)(2000.2,147)(2001.2,164)(2002.2,166)(2003.2,190)(2004.2,201)(2005.2,221)(2006.2,244)(2007.2,251)};
\addplot[only marks, mark=*, mark size=2.2pt, color=dkg] coordinates {(1935.2,66)(1953.2,187)(1965.2,242)(1974.2,290)(1979.2,342)(1978.2,244)(1988.2,254)(2000.2,420)(1999.2,300)(2011.2,508)(2007.2,251)};

% ---------- named active (blue) ----------
\addplot[bl] coordinates {(2001.2,0)(2002.2,1)(2003.2,18)(2004.2,29)(2005.2,56)(2006.2,80)(2007.2,106)(2008.2,134)(2009.2,168)(2010.2,202)(2011.2,235)(2012.2,281)(2013.2,324)(2014.2,363)(2014.6,374)};
\addplot[bl] coordinates {(2000.2,0)(2001.2,0)(2002.2,18)(2003.2,46)(2004.2,69)(2005.2,97)(2006.2,123)(2007.2,147)(2008.2,197)(2009.2,197)(2010.2,225)(2011.2,261)(2012.2,300)(2013.2,334)(2014.2,359)(2014.6,373)};
\addplot[bl] coordinates {(2004.2,0)(2005.2,6)(2006.2,30)(2007.2,54)(2008.2,77)(2009.2,98)(2010.2,125)(2011.2,156)(2012.2,185)(2013.2,211)(2014.2,229)(2014.6,243)};
\addplot[bl] coordinates {(2004.2,0)(2006.2,0)(2007.2,19)(2008.2,55)(2009.2,81)(2010.2,107)(2011.2,118)(2012.2,149)(2013.2,177)(2014.2,208)(2014.6,222)};
\addplot[bl] coordinates {(2005.2,0)(2007.2,0)(2008.2,1)(2009.2,29)(2010.2,59)(2011.2,87)(2012.2,132)(2013.2,171)(2014.2,188)(2014.6,206)};
\addplot[bl] coordinates {(2006.2,0)(2007.2,9)(2008.2,29)(2009.2,54)(2010.2,81)(2011.2,104)(2012.2,117)(2013.2,136)(2014.2,155)(2014.6,169)};
\addplot[bl] coordinates {(2008.2,0)(2009.2,14)(2010.2,35)(2011.2,60)(2012.2,80)(2013.2,102)(2014.2,121)(2014.6,135)};
\addplot[bl] coordinates {(2009.2,0)(2010.2,13)(2011.2,19)(2012.2,60)(2013.2,80)(2014.2,109)(2014.6,118)};
\addplot[bl] coordinates {(2012.2,0)(2013.2,23)(2014.2,46)(2014.6,68)};
\addplot[bl] coordinates {(2012.2,0)(2013.2,26)(2014.2,52)(2014.6,62)};
\addplot[bl] coordinates {(2012.2,0)(2013.2,20)(2014.2,36)(2014.6,37)};
\addplot[only marks, mark=*, mark size=2.6pt, color=blu] coordinates {(2014.6,374)(2014.6,373)(2014.6,243)(2014.6,222)(2014.6,206)(2014.6,169)(2014.6,135)(2014.6,118)(2014.6,68)(2014.6,62)(2014.6,37)};

% ---------- Peyton Manning ----------
\addplot[color=pmb, line width=3.2pt, line join=round] coordinates {(1998.2,0)(1999.2,26)(2000.2,52)(2001.2,85)(2002.2,111)(2003.2,138)(2004.2,167)(2005.2,216)(2006.2,244)(2007.2,275)(2008.2,306)(2009.2,333)(2010.2,366)(2011.2,399)(2012.2,399)(2013.2,436)(2014.2,491)(2014.6,510)};
\addplot[only marks, mark=*, mark size=4.2pt, color=pmb] coordinates {(2014.6,510)};
\end{axis}

% ---------- y-axis labels ----------
\begin{scope}[every node/.style={inner sep=0pt, anchor=west, text=gray, font=\fontsize{12}{14}\selectfont}]
\node at (11,345) {300};
\node at (11,241) {200};
\node at (11,138) {100};
\node at (672,448) {400};
\node at (720,551) {500};
\node at (41,345) {touchdown};
\node at (41,330) {passes};
\end{scope}

% ---------- player labels ----------
\begin{scope}[every node/.style={inner sep=0pt, anchor=west, text=txt, font=\fontsize{12.3}{14}\selectfont}]
\node at (43,102) {Benny Friedman};
\node at (265,214) {Sammy Baugh};
\node[anchor=center] at (375,281) {Y.A. Tittle};
\node at (432,330) {Johnny Unitas};
\node at (559,375) {Fran Tarkenton};
\node at (547,273) {John Hadl};
\node at (620,296) {Dan Fouts};
\node at (795,454) {Dan Marino};
\node at (754,344) {John Elway};
\node[anchor=east] at (889,533) {Brett Favre};
\node at (874,281) {Drew Bledsoe};
\node at (958,414) {Drew Brees};
\node at (958,398) {Tom Brady};
\node at (958,272) {Eli Manning};
\node at (958,251) {Tony Romo};
\node at (958,234) {Aaron Rodgers};
\node at (958,196) {Jay Cutler};
\node at (958,161) {Joe Flacco};
\node at (958,144) {Matthew Stafford};
\node at (958,96) {Andrew Luck};
\node at (958,81) {Russell Wilson};
\node at (958,60) {Robert Griffin};
\end{scope}
\node[inner sep=0pt, anchor=center, font=\fontsize{13}{15}\selectfont\bfseries] at (971,564) {Peyton Manning};
\node[inner sep=0pt, anchor=center, font=\fontsize{13}{15}\selectfont\bfseries] at (985,547) {(510)};

% ---------- title block ----------
\node[inner sep=0pt, anchor=base west, font=\titlefont\fontsize{34.8}{40}\selectfont] at (7,549) {Why Peyton Manning's Record Will};
\node[inner sep=0pt, anchor=base west, font=\titlefont\fontsize{34.8}{40}\selectfont] at (7,508) {Be Hard to Beat};
\node[inner sep=0pt, anchor=base west, font=\fontsize{10}{12}\selectfont] at (7,483) {\textbf{By GREGOR AISCH and KEVIN QUEALY}\hspace{9pt}OCT. 19, 2014};
\node[inner sep=0pt, anchor=base west, font=\seriffont\fontsize{14.2}{17}\selectfont, text=txt] at (7,429) {The Broncos quarterback set the all-time N.F.L.};
\node[inner sep=0pt, anchor=base west, font=\seriffont\fontsize{14.2}{17}\selectfont, text=txt] at (7,406) {touchdown passing record — and is still going strong.};
\end{tikzpicture}
\end{document}
